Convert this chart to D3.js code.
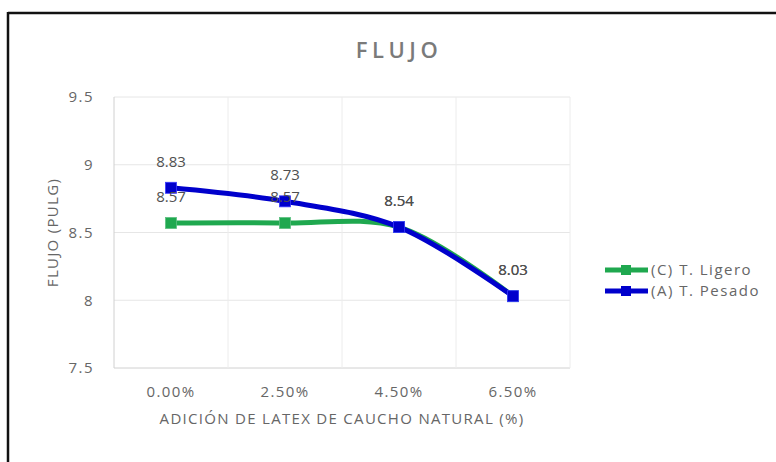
<!DOCTYPE html>
<html>
<head>
<meta charset="utf-8">
<script src="https://cdn.jsdelivr.net/npm/d3@7"></script>
<style>
  html, body { margin: 0; padding: 0; background: #fff; }
  svg { display: block; font-family: "Open Sans", sans-serif; }
</style>
</head>
<body>
<svg id="chart" width="776" height="462"></svg>
<script>
const categories = ["0.00%", "2.50%", "4.50%", "6.50%"];
const ligero = [8.57, 8.57, 8.54, 8.03];
const pesado = [8.83, 8.73, 8.54, 8.03];
const yTicks = [7.5, 8, 8.5, 9, 9.5];
const seriesNames = ["(C) T. Ligero", "(A) T. Pesado"];
const seriesColors = ["#1fa84f", "#0000cc"];

const svg = d3.select("#chart");
const margin = { left: 114, right: 206, top: 97, bottom: 94 };
const W = 776, H = 462;

const x = d3.scaleBand().domain(categories).range([margin.left, W - margin.right]);
const y = d3.scaleLinear().domain([7.5, 9.5]).range([H - margin.bottom, margin.top]);

// Outer frame (left and top only visible)
svg.append("line").attr("x1", 8).attr("x2", 8).attr("y1", 12).attr("y2", H).attr("stroke", "#111").attr("stroke-width", 2.5);
svg.append("line").attr("x1", 8).attr("x2", W).attr("y1", 13).attr("y2", 13).attr("stroke", "#111").attr("stroke-width", 2.5);

// Title
svg.append("text").attr("x", 399).attr("y", 58).attr("text-anchor", "middle")
  .attr("font-size", 22).attr("font-weight", 600).attr("letter-spacing", 4.5).attr("fill", "#7a7a7a").text("FLUJO");

// Horizontal gridlines
svg.append("g").selectAll("line").data(yTicks).join("line")
  .attr("x1", x.range()[0]).attr("x2", x.range()[1])
  .attr("y1", d => y(d)).attr("y2", d => y(d))
  .attr("stroke", d => d === 7.5 ? "#d0d0d0" : "#e6e6e6").attr("stroke-width", 1);

// Vertical category gridlines
const bounds = categories.map(c => x(c)).concat([x.range()[1]]);
svg.append("g").selectAll("line").data(bounds).join("line")
  .attr("x1", d => d).attr("x2", d => d)
  .attr("y1", y(9.5)).attr("y2", y(7.5))
  .attr("stroke", (d, i) => i === 0 ? "#d0d0d0" : "#ececec").attr("stroke-width", 1);

// Y axis labels
const yAxis = d3.axisLeft(y).tickValues(yTicks).tickSize(0).tickPadding(20).tickFormat(d => String(d));
const gy = svg.append("g").attr("transform", `translate(${x.range()[0]},0)`).call(yAxis);
gy.select(".domain").remove();
gy.selectAll("text").attr("font-size", 15).attr("letter-spacing", 1.5).attr("fill", "#666").attr("font-family", "Open Sans, sans-serif");

// X axis labels
const xAxis = d3.axisBottom(x).tickSize(0).tickPadding(18);
const gx = svg.append("g").attr("transform", `translate(0,${y(7.5)})`).call(xAxis);
gx.select(".domain").remove();
gx.selectAll("text").attr("font-size", 15).attr("letter-spacing", 1.4).attr("fill", "#666").attr("font-family", "Open Sans, sans-serif");

// Axis titles
svg.append("text").attr("x", (x.range()[0] + x.range()[1]) / 2).attr("y", 424).attr("text-anchor", "middle")
  .attr("font-size", 15).attr("letter-spacing", 1.3).attr("fill", "#666").text("ADICIÓN DE LATEX DE CAUCHO NATURAL (%)");
svg.append("text").attr("transform", `translate(58,${(y(9.5) + y(7.5)) / 2}) rotate(-90)`).attr("text-anchor", "middle")
  .attr("font-size", 15).attr("letter-spacing", 1.3).attr("fill", "#666").text("FLUJO (PULG)");

const line = d3.line().x((d, i) => x(categories[i]) + x.bandwidth() / 2).y(d => y(d)).curve(d3.curveCatmullRom.alpha(0.5));
const allSeries = [ligero, pesado];

allSeries.forEach((s, k) => {
  const g = svg.append("g");
  g.append("path").datum(s).attr("d", line).attr("fill", "none").attr("stroke", seriesColors[k]).attr("stroke-width", 5).attr("stroke-linejoin", "round");
  g.selectAll("rect").data(s).join("rect")
    .attr("x", (d, i) => x(categories[i]) + x.bandwidth() / 2 - 5.5)
    .attr("y", d => y(d) - 5.5)
    .attr("width", 11).attr("height", 11)
    .attr("fill", seriesColors[k]).attr("stroke", k === 0 ? "#5cc080" : "#3a3aff").attr("stroke-width", 0.8);
});
allSeries.forEach((s, k) => {
  svg.append("g").selectAll("text").data(s).join("text")
    .attr("x", (d, i) => x(categories[i]) + x.bandwidth() / 2)
    .attr("y", d => y(d) - 21)
    .attr("text-anchor", "middle").attr("font-size", 15).attr("fill", "#505050")
    .text(d => d.toFixed(2));
});

// Legend
const legend = svg.append("g");
seriesNames.forEach((n, k) => {
  const ly = 270 + k * 21;
  legend.append("line").attr("x1", 605).attr("x2", 648).attr("y1", ly).attr("y2", ly).attr("stroke", seriesColors[k]).attr("stroke-width", 5);
  legend.append("rect").attr("x", 621).attr("y", ly - 5).attr("width", 10).attr("height", 10).attr("fill", seriesColors[k]);
  legend.append("text").attr("x", 651).attr("y", ly + 5).attr("font-size", 15).attr("letter-spacing", 1.5).attr("fill", "#666").text(n);
});
</script>
</body>
</html>
